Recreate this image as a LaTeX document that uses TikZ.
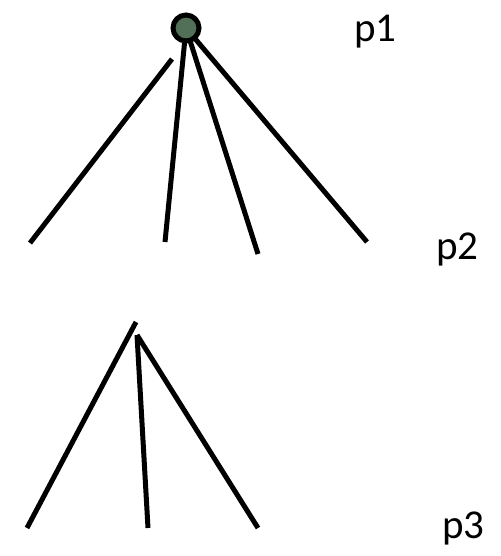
\documentclass[tikz,border=0pt]{standalone}
\usepackage{fontspec}
\setmainfont{Carlito}
\definecolor{nodegreen}{RGB}{82,112,88}
\begin{document}
\begin{tikzpicture}[x=0.5pt,y=-0.5pt,
  edge/.style={line width=2.5pt,line cap=butt},
  lbl/.style={anchor=base west,inner sep=0pt,font=\fontsize{20.5pt}{24pt}\selectfont}]
\useasboundingbox (0,0) rectangle (500,556);
% top tree
\coordinate (c) at (186,28);
\coordinate (a1s) at (172,59);
\coordinate (a1) at (30,243);
\coordinate (a2) at (165,242);
\coordinate (a3) at (258,254);
\coordinate (a4) at (367,242);
\draw[edge] (a1s) -- (a1);
\draw[edge] (c) -- (a2);
\draw[edge] (c) -- (a3);
\draw[edge] (c) -- (a4);
\node[circle,draw,line width=2.5pt,fill=nodegreen,minimum size=13pt,inner sep=0pt] (top) at (c) {};
% bottom tree
\coordinate (b1s) at (136,322);
\coordinate (b2s) at (137,335);
\coordinate (b1) at (27,528);
\coordinate (b2) at (148,528);
\coordinate (b3) at (258,528);
\draw[edge] (b1s) -- (b1);
\draw[edge] (b2s) -- (b2);
\draw[edge] (b2s) -- (b3);
% labels
\node[lbl] (p1) at (354,42) {p1};
\node[lbl] (p2) at (436,259) {p2};
\node[lbl] (p3) at (442,538) {p3};
\end{tikzpicture}
\end{document}
